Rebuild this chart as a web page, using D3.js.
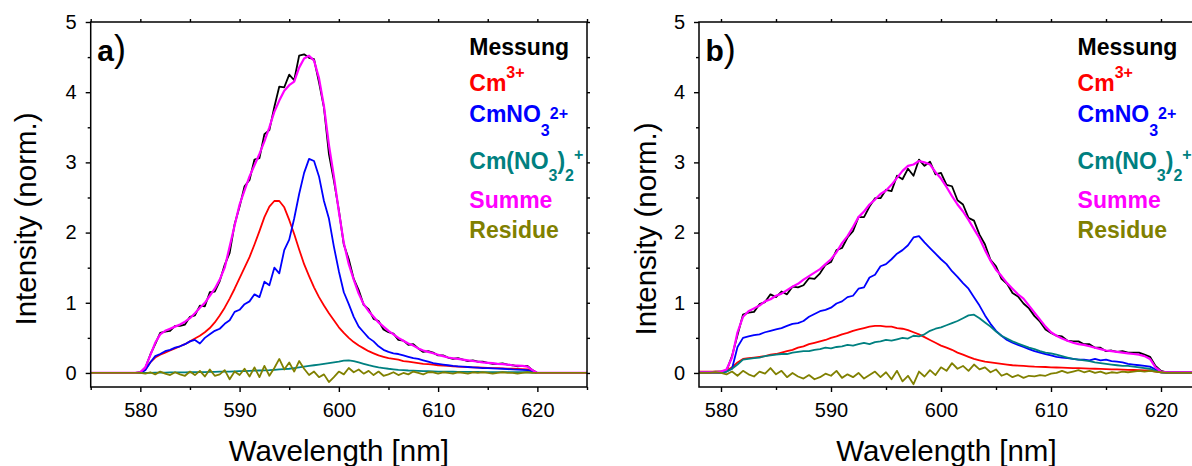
<!DOCTYPE html>
<html>
<head>
<meta charset="utf-8">
<script src="https://cdn.jsdelivr.net/npm/d3@7"></script>
<style>
  body { margin: 0; background: #fff; }
  svg { display: block; }
</style>
</head>
<body>
<svg id="chart" width="1192" height="466"></svg>
<script>
// wavelength grid of the spectra [nm]
var wavelength = d3.range(579, 621.01, 0.5);

// panel a) values, one per grid point
var messungA = [0,0,0.01,0.07,0.26,0.41,0.57,0.59,0.6,0.67,
  0.67,0.69,0.8,0.82,0.96,0.95,1.15,1.16,1.31,1.54,
  1.71,2.12,2.37,2.66,2.75,3.04,3.06,3.4,3.46,3.79,
  4.08,4.07,4.25,4.17,4.52,4.54,4.49,4.47,4.14,3.78,
  3.12,2.74,2.32,1.83,1.62,1.34,1.18,0.97,0.91,0.77,
  0.74,0.62,0.58,0.56,0.47,0.46,0.4,0.41,0.35,0.3,
  0.31,0.29,0.25,0.25,0.22,0.2,0.21,0.19,0.17,0.18,
  0.16,0.16,0.145,0.13,0.13,0.135,0.12,0.11,0.095,0.1,
  0.1,0.04,0,0,0];
var cm3A = [0,0,0,0.05,0.15,0.22,0.26,0.29,0.32,0.35,
  0.38,0.41,0.45,0.49,0.53,0.58,0.64,0.72,0.82,0.93,
  1.06,1.2,1.35,1.5,1.65,1.83,2.02,2.22,2.37,2.45,
  2.45,2.36,2.18,1.98,1.76,1.55,1.38,1.22,1.08,0.96,
  0.85,0.75,0.65,0.57,0.5,0.44,0.39,0.35,0.31,0.28,
  0.25,0.23,0.21,0.2,0.19,0.17,0.16,0.15,0.14,0.13,
  0.125,0.12,0.11,0.105,0.1,0.095,0.09,0.088,0.085,0.08,
  0.078,0.075,0.072,0.07,0.068,0.065,0.062,0.06,0.058,0.055,
  0.05,0.03,0,0,0];
var cmNO3A = [0,0,0,0.04,0.15,0.24,0.27,0.31,0.33,0.36,
  0.38,0.41,0.45,0.47,0.42,0.5,0.55,0.6,0.63,0.7,
  0.75,0.87,0.9,0.98,1.02,1.12,1.08,1.3,1.25,1.5,
  1.42,1.75,1.9,2.2,2.55,2.85,3.05,3.02,2.8,2.45,
  2.2,1.8,1.45,1.15,0.98,0.8,0.66,0.58,0.5,0.45,
  0.38,0.33,0.3,0.28,0.27,0.25,0.23,0.21,0.2,0.18,
  0.16,0.14,0.13,0.12,0.11,0.1,0.095,0.09,0.085,0.08,
  0.075,0.07,0.068,0.065,0.062,0.06,0.055,0.05,0.048,0.045,
  0.04,0.02,0,0,0];
var cmNO32A = [0,0,0,0,0.002,0.004,0.005,0.006,0.007,0.008,
  0.008,0.009,0.01,0.011,0.012,0.013,0.015,0.016,0.018,0.019,
  0.02,0.022,0.025,0.027,0.03,0.032,0.035,0.037,0.04,0.045,
  0.05,0.055,0.06,0.07,0.08,0.09,0.1,0.11,0.12,0.13,
  0.14,0.15,0.16,0.175,0.18,0.17,0.15,0.13,0.11,0.095,
  0.08,0.07,0.06,0.052,0.045,0.04,0.035,0.032,0.03,0.027,
  0.025,0.022,0.02,0.019,0.018,0.017,0.016,0.015,0.015,0.014,
  0.014,0.013,0.013,0.012,0.012,0.011,0.011,0.01,0.01,0.01,
  0.01,0.005,0,0,0];
var summeA = [0,0,0.01,0.08,0.25,0.43,0.55,0.6,0.63,0.66,
  0.69,0.73,0.78,0.85,0.93,1.0,1.1,1.2,1.33,1.5,
  1.8,2.1,2.4,2.6,2.8,2.96,3.12,3.3,3.5,3.72,
  3.88,4.02,4.1,4.15,4.35,4.48,4.52,4.45,4.2,3.8,
  3.25,2.8,2.3,1.85,1.55,1.33,1.13,0.98,0.88,0.8,
  0.72,0.66,0.6,0.55,0.5,0.46,0.42,0.39,0.35,0.32,
  0.3,0.28,0.26,0.24,0.22,0.21,0.2,0.19,0.18,0.17,
  0.16,0.15,0.145,0.14,0.13,0.125,0.12,0.11,0.105,0.1,
  0.09,0.04,0,0,0];
var residueA = [0,0,0,-0.01,0.01,-0.02,0.02,-0.01,-0.03,0.01,
  -0.02,-0.04,0.02,-0.03,0.03,-0.05,0.05,-0.04,-0.02,0.04,
  -0.09,0.02,-0.03,0.06,-0.05,0.08,-0.06,0.1,-0.04,0.07,
  0.2,0.05,0.15,0.02,0.17,0.06,-0.03,0.02,-0.06,-0.02,
  -0.13,-0.06,0.02,-0.02,0.07,0.01,0.05,-0.01,0.03,-0.03,
  0.02,-0.04,-0.02,0.01,-0.03,0,-0.02,0.02,0,-0.02,
  0.01,0.01,-0.01,0.01,0,-0.01,0.01,0,-0.01,0.01,
  0,0.01,0,-0.01,0,0.01,0,0,-0.01,0,
  0.01,0,0,0,0];

// panel b) values, one per grid point
var messungB = [0.01,0.02,0.02,0.03,0.24,0.54,0.83,0.86,0.87,0.98,
  1.01,1.12,1.08,1.16,1.12,1.23,1.22,1.25,1.35,1.34,
  1.42,1.54,1.58,1.75,1.78,1.93,2.02,2.22,2.22,2.37,
  2.49,2.49,2.61,2.59,2.81,2.76,2.91,2.81,3.04,2.95,
  3.01,2.83,2.85,2.68,2.66,2.46,2.4,2.21,2.17,1.97,
  1.83,1.61,1.52,1.34,1.27,1.14,1.09,0.99,0.92,0.81,
  0.73,0.62,0.57,0.53,0.52,0.46,0.45,0.45,0.41,0.41,
  0.36,0.36,0.31,0.32,0.3,0.31,0.29,0.29,0.29,0.26,
  0.23,0.1,0.03,0.01,0.01];
var cm3B = [0.02,0.02,0.02,0.03,0.08,0.15,0.2,0.21,0.22,0.23,
  0.24,0.26,0.27,0.29,0.31,0.33,0.36,0.38,0.41,0.43,
  0.45,0.47,0.5,0.52,0.55,0.57,0.6,0.62,0.64,0.66,
  0.67,0.67,0.66,0.66,0.64,0.63,0.61,0.58,0.55,0.51,
  0.47,0.43,0.39,0.36,0.33,0.29,0.26,0.23,0.2,0.18,
  0.16,0.15,0.14,0.13,0.12,0.11,0.105,0.1,0.095,0.09,
  0.088,0.085,0.08,0.078,0.075,0.072,0.07,0.068,0.065,0.062,
  0.06,0.058,0.055,0.052,0.05,0.048,0.045,0.042,0.04,0.038,
  0.035,0.02,0.01,0.01,0.01];
var cmNO3B = [0,0,0,0.02,0.06,0.37,0.5,0.52,0.54,0.55,
  0.58,0.6,0.62,0.64,0.67,0.7,0.71,0.74,0.8,0.84,
  0.88,0.9,0.93,0.99,1.02,1.08,1.1,1.2,1.22,1.36,
  1.4,1.52,1.55,1.62,1.7,1.75,1.82,1.93,1.95,1.86,
  1.78,1.7,1.62,1.55,1.45,1.37,1.28,1.2,1.08,0.96,
  0.82,0.7,0.6,0.53,0.47,0.43,0.4,0.37,0.34,0.31,
  0.29,0.27,0.25,0.23,0.22,0.21,0.2,0.19,0.19,0.18,
  0.2,0.18,0.19,0.17,0.16,0.15,0.13,0.12,0.11,0.1,
  0.09,0.05,0.01,0,0];
var cmNO32B = [0.01,0.01,0.01,0.02,0.06,0.12,0.19,0.2,0.21,0.22,
  0.24,0.25,0.26,0.27,0.27,0.29,0.3,0.31,0.31,0.33,
  0.34,0.36,0.35,0.37,0.38,0.4,0.39,0.41,0.43,0.41,
  0.44,0.45,0.47,0.46,0.48,0.5,0.49,0.53,0.52,0.55,
  0.6,0.63,0.65,0.68,0.71,0.74,0.78,0.82,0.83,0.78,
  0.72,0.66,0.59,0.53,0.49,0.45,0.42,0.39,0.36,0.34,
  0.31,0.29,0.28,0.26,0.24,0.22,0.2,0.19,0.18,0.17,
  0.15,0.14,0.13,0.12,0.11,0.1,0.1,0.09,0.08,0.07,
  0.06,0.03,0.01,0.01,0.01];
var summeB = [0.01,0.01,0.02,0.05,0.22,0.58,0.8,0.88,0.92,0.96,
  1.02,1.05,1.1,1.13,1.18,1.23,1.27,1.33,1.38,1.43,
  1.48,1.55,1.62,1.72,1.85,1.95,2.08,2.22,2.3,2.4,
  2.47,2.55,2.6,2.68,2.78,2.88,2.95,2.97,3.02,3.0,
  2.97,2.86,2.77,2.65,2.52,2.4,2.3,2.18,2.05,1.92,
  1.75,1.6,1.47,1.38,1.28,1.2,1.12,1.06,0.96,0.86,
  0.76,0.66,0.58,0.53,0.49,0.46,0.43,0.41,0.4,0.38,
  0.36,0.34,0.32,0.31,0.3,0.29,0.28,0.27,0.26,0.24,
  0.2,0.08,0.02,0.01,0.01];
var residueB = [0,0.01,0,-0.02,0.02,-0.04,0.03,-0.02,-0.05,0.02,
  -0.01,0.07,-0.02,0.03,-0.06,0,-0.05,-0.08,-0.03,-0.09,
  -0.06,-0.01,-0.04,0.03,-0.07,-0.02,-0.06,0,-0.08,-0.03,
  0.02,-0.06,0.01,-0.09,0.03,-0.12,-0.04,-0.16,0.02,-0.05,
  0.04,-0.03,0.08,0.03,0.14,0.06,0.1,0.03,0.12,0.05,
  0.08,0.01,0.05,-0.04,-0.01,-0.06,-0.03,-0.07,-0.04,-0.05,
  -0.03,-0.04,-0.01,0,0.03,0,0.02,0.04,0.01,0.03,
  0,0.02,-0.01,0.01,0,0.02,0.01,0.02,0.03,0.02,
  0.03,0.02,0.01,0,0];

// axis ticks
var yTicks = [0, 1, 2, 3, 4, 5];
var yMinor = [0.5, 1.5, 2.5, 3.5, 4.5];
var xTicks = [580, 590, 600, 610, 620];

// series order, names and colours
var seriesKeys = ["messung", "cm3", "cmNO3", "cmNO32", "summe", "residue"];
var seriesColors = ["#000000", "#ff0000", "#0000ff", "#008080", "#ff00ff", "#808000"];
var seriesWidths = [1.8, 1.8, 1.8, 1.8, 2.2, 1.8];

var panels = [
  { label: "a", left: 90.7, right: 587, xDomain: [575, 625], xMinor: [575, 585, 595, 605, 615, 625],
    yTitleX: 35.5, yTitleY: 219,
    values: { messung: messungA, cm3: cm3A, cmNO3: cmNO3A, cmNO32: cmNO32A, summe: summeA, residue: residueA } },
  { label: "b", left: 699, right: 1194, xDomain: [578, 623], xMinor: [585, 595, 605, 615],
    yTitleX: 655.5, yTitleY: 229,
    values: { messung: messungB, cm3: cm3B, cmNO3: cmNO3B, cmNO32: cmNO32B, summe: summeB, residue: residueB } }
];

// legend text pieces: [text, small?, offset from line baseline]
var legendLines = [
  [["Messung", 0, 0]],
  [["Cm", 0, 0], ["3+", 1, -13]],
  [["CmNO", 0, 0], ["3", 1, 14.3], ["2+", 1, -2.5]],
  [["Cm(NO", 0, 0], ["3", 1, 11.7], [")", 0, 0], ["2", 1, 11.7], ["+", 1, -8.7]],
  [["Summe", 0, 0]],
  [["Residue", 0, 0]]
];
var legendBaselines = [55, 91, 121.7, 169, 208.3, 238.3];

var svg = d3.select("#chart"),
  plotTop = 22,
  plotBottom = 387,
  font = "'Liberation Sans', Arial, Helvetica, sans-serif";

panels.forEach(function(p, pi) {
  var x = d3.scaleLinear().domain(p.xDomain).range([p.left, p.right]);
  var y = d3.scaleLinear().domain([-0.2, 5]).range([plotBottom, plotTop]);

  var g = svg.append("g");

  g.append("clipPath").attr("id", "clip" + pi)
    .append("rect")
    .attr("x", p.left).attr("y", plotTop)
    .attr("width", p.right - p.left).attr("height", plotBottom - plotTop);

  // spectra, the first and last value held to the frame edges
  var line = d3.line().x(function(d) { return x(d[0]); }).y(function(d) { return y(d[1]); });
  seriesKeys.forEach(function(key, si) {
    var vals = p.values[key];
    if (vals.length !== wavelength.length) throw new Error(p.label + " " + key + " has " + vals.length);
    var pts = wavelength.map(function(w, i) { return [w, vals[i]]; });
    pts.unshift([p.xDomain[0], vals[0]]);
    pts.push([p.xDomain[1], vals[vals.length - 1]]);
    g.append("path")
      .datum(pts)
      .attr("clip-path", "url(#clip" + pi + ")")
      .attr("d", line)
      .attr("fill", "none")
      .attr("stroke", seriesColors[si])
      .attr("stroke-width", seriesWidths[si])
      .attr("stroke-linejoin", "round");
  });

  // axes
  function style(a) {
    a.select(".domain").remove();
    a.selectAll(".tick line").attr("stroke", "#000").attr("stroke-width", 1.4);
    a.selectAll("text").attr("fill", "#000");
    a.attr("font-family", font).attr("font-size", 20);
  }
  g.append("g").attr("transform", "translate(0," + plotBottom + ")")
    .call(d3.axisBottom(x).tickValues(xTicks).tickSize(5).tickPadding(11).tickFormat(d3.format("d")))
    .call(style);
  g.append("g").attr("transform", "translate(0," + plotBottom + ")")
    .call(d3.axisBottom(x).tickValues(p.xMinor).tickSize(3).tickFormat(""))
    .call(style);
  g.append("g").attr("transform", "translate(0," + plotTop + ")")
    .call(d3.axisTop(x).tickValues(xTicks.concat(p.xMinor)).tickSize(3).tickFormat(""))
    .call(style);
  g.append("g").attr("transform", "translate(" + p.left + ",0)")
    .call(d3.axisLeft(y).tickValues(yTicks).tickSize(5).tickPadding(9).tickFormat(d3.format("d")))
    .call(style);
  g.append("g").attr("transform", "translate(" + p.left + ",0)")
    .call(d3.axisLeft(y).tickValues(yMinor).tickSize(3).tickFormat(""))
    .call(style);
  g.append("g").attr("transform", "translate(" + p.right + ",0)")
    .call(d3.axisRight(y).tickValues(yTicks.concat(yMinor)).tickSize(3).tickFormat(""))
    .call(style);

  // frame
  g.append("rect")
    .attr("x", p.left).attr("y", plotTop)
    .attr("width", p.right - p.left).attr("height", plotBottom - plotTop)
    .attr("fill", "none").attr("stroke", "#000").attr("stroke-width", 1.5);

  // axis titles
  g.append("text")
    .attr("x", (p.left + p.right) / 2).attr("y", 461)
    .attr("text-anchor", "middle")
    .style("font-family", font).style("font-size", "29.5px")
    .text("Wavelength [nm]");
  g.append("text")
    .attr("transform", "translate(" + p.yTitleX + "," + p.yTitleY + ") rotate(-90)")
    .attr("text-anchor", "middle")
    .style("font-family", font).style("font-size", "29.5px")
    .text("Intensity (norm.)");

  // panel letter
  var lab = g.append("text").attr("x", p.left + 6.5).attr("y", 60.7).style("font-family", font);
  lab.append("tspan").style("font-weight", "bold").style("font-size", "30px").text(p.label);
  lab.append("tspan").attr("y", 61.4).style("font-size", "36px").text(")");

  // legend
  legendLines.forEach(function(parts, li) {
    var t = g.append("text")
      .attr("x", p.left + 378.6)
      .style("font-family", font).style("font-weight", "bold")
      .attr("fill", seriesColors[li]);
    parts.forEach(function(part) {
      t.append("tspan")
        .attr("y", legendBaselines[li] + part[2])
        .style("font-size", part[1] ? "16px" : "23px")
        .text(part[0]);
    });
  });
});
</script>
</body>
</html>
